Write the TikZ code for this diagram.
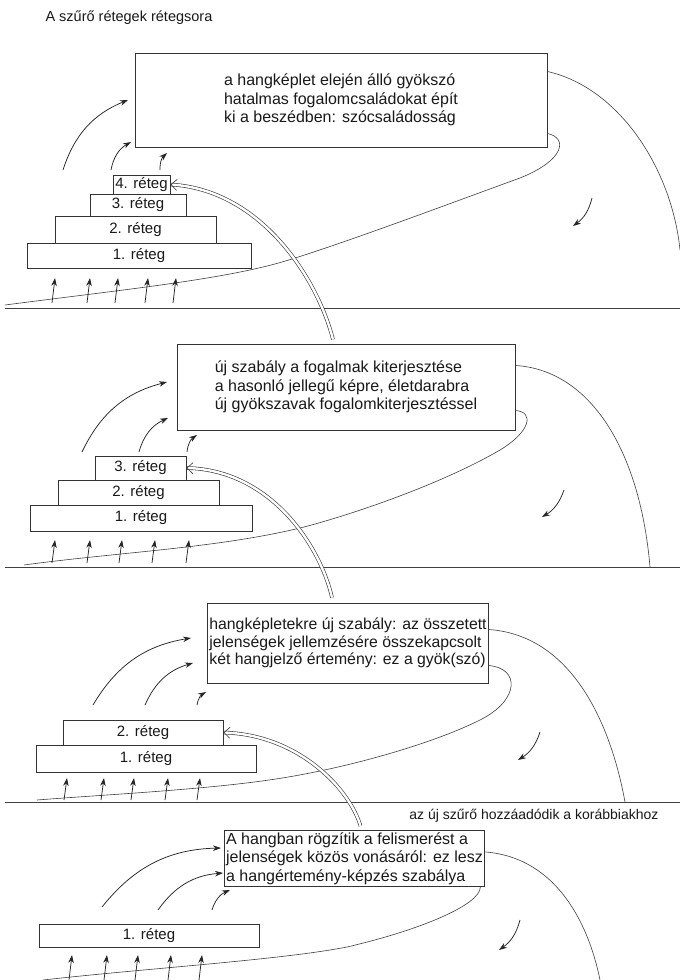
\documentclass[tikz,border=0pt]{standalone}
\usepackage{fontspec}
\setmainfont{Liberation Sans}
\usetikzlibrary{arrows.meta,calc}

\begin{document}
\begin{tikzpicture}[x=1pt,y=-1pt,
    every node/.style={text=black!90},
    box/.style={draw=black!80,line width=1pt,align=left,font=\fontsize{16}{18.5}\selectfont},
    layer/.style={draw=black!80,line width=1pt,inner sep=0pt,font=\fontsize{15}{17}\selectfont},
    arr/.style={draw=black!85,line width=0.75pt,-{Stealth[length=8pt,width=5.5pt]}},
    dbl/.style={draw=black!80,double,double distance=2.4pt,line width=0.6pt,-{Straight Barb[length=6pt,width=11pt]}},
    flow/.style={draw=black!75,line width=0.6pt}]
\useasboundingbox[fill=white] (0,0) rectangle (680,980);

\node[anchor=west,font=\fontsize{14.5}{17}\selectfont] (title) at (42,18) {A szűrő rétegek rétegsora};

% 1. szakasz
\node[box,minimum width=412pt,minimum height=94pt] (box1) at (341,100)
    {a hangképlet elején álló gyökszó\\hatalmas fogalomcsaládokat épít\\ki a beszédben: szócsaládosság};
\node[layer,minimum width=57pt,minimum height=19pt] (l14) at (141.5,184.5) {4. réteg};
\node[layer,minimum width=96pt,minimum height=22pt] (l13) at (138,205) {3. réteg};
\node[layer,minimum width=161pt,minimum height=27pt] (l12) at (135.5,229.5) {2. réteg};
\node[layer,minimum width=224pt,minimum height=25pt] (l11) at (139,255.5) {1. réteg};
\draw[flow] (5,308) -- (680,308);
\draw[flow] ($(box1.south east)+(0,-14)$) .. controls (568,138) and (565,160) .. (520,178)
    .. controls (470,196) and (340,245) .. (282,262) .. controls (220,280) and (120,290) .. (5,305);
\draw[flow] ($(box1.north east)+(0,19)$) .. controls (620,88) and (672,170) .. (680,250);
\foreach \a/\b/\c/\d in {63/170/128/100, 111/170/131/142, 160/170/167/153}
    \draw[arr] (\a,\b) to[bend left=25] (\c,\d);
\foreach \x in {52,87,115,145,173}
    \draw[arr] (\x,303) -- (\x+3,278);
\draw[arr] (592,198) to[bend left=20] (573,226);

% 2. szakasz
\node[box,minimum width=338pt,minimum height=86pt] (box2) at (346,387)
    {új szabály a fogalmak kiterjesztése\\a hasonló jellegű képre, életdarabra\\új gyökszavak fogalomkiterjesztéssel};
\node[layer,minimum width=91pt,minimum height=24pt] (l23) at (140.5,468) {3. réteg};
\node[layer,minimum width=161pt,minimum height=25pt] (l22) at (138.5,492.5) {2. réteg};
\node[layer,minimum width=222pt,minimum height=26pt] (l21) at (141,518) {1. réteg};
\draw[flow] (5,567) -- (680,567);
\draw[dbl] ($(box2.north)+(-13,-4)$) .. controls (318,280) and (262,190) .. (l14.east);
\draw[flow] ($(box2.south east)+(0,-20)$) .. controls (535,412) and (530,432) .. (500,450)
    .. controls (440,485) and (350,515) .. (304,527) .. controls (220,548) and (120,552) .. (24,565);
\draw[flow] ($(box2.north east)+(0,22)$) .. controls (590,370) and (640,450) .. (650,567);
\foreach \a/\b/\c/\d in {82/452/167/382, 139/452/168/418, 187/452/197/435}
    \draw[arr] (\a,\b) to[bend left=25] (\c,\d);
\foreach \x in {52,87,119,152,186}
    \draw[arr] (\x,563) -- (\x+3,540);
\draw[arr] (564,490) to[bend left=20] (542,517);

% 3. szakasz
\node[box,inner sep=1.5pt,minimum height=80pt,font=\fontsize{15.8}{17.8}\selectfont] (box3) at (348,643)
    {hangképletekre új szabály: az összetett\\jelenségek jellemzésére összekapcsolt\\két hangjelző értemény: ez a gyök(szó)};
\node[layer,minimum width=160pt,minimum height=25pt] (l32) at (143,732.5) {2. réteg};
\node[layer,minimum width=220pt,minimum height=27pt] (l31) at (146,758.5) {1. réteg};
\draw[flow] (5,802) -- (680,802);
\draw[dbl] ($(box3.north)+(-16,-5)$) .. controls (320,545) and (270,470) .. (l23.east);
\draw[flow] ($(box3.south east)+(0,-18)$) .. controls (520,668) and (520,700) .. (480,720)
    .. controls (430,745) and (340,770) .. (269,780) .. controls (200,790) and (100,795) .. (37,800);
\draw[flow] ($(box3.north east)+(0,27)$) .. controls (570,635) and (610,720) .. (625,802);
\foreach \a/\b/\c/\d in {93/705/191/638, 145/705/193/663, 197/705/206/692}
    \draw[arr] (\a,\b) to[bend left=25] (\c,\d);
\foreach \x in {64,101,131,165,197}
    \draw[arr] (\x,800) -- (\x+3,778);
\draw[arr] (540,732) to[bend left=20] (518,760);

% 4. szakasz
\node[anchor=east,font=\fontsize{14}{17}\selectfont] (note) at (662,816) {az új szűrő hozzáadódik a korábbiakhoz};
\node[box,inner sep=2pt] (box4) at (354.5,858.5)
    {A hangban rögzítik a felismerést a\\jelenségek közös vonásáról: ez lesz\\a hangértemény-képzés szabálya};
\node[layer,minimum width=220pt,minimum height=23pt] (l41) at (149,935.5) {1. réteg};
\draw[dbl] ($(box4.north)+(6,-4)$) .. controls (350,790) and (300,735) .. (l32.east);
\draw[flow] ($(box4.south east)+(-5,0)$) .. controls (480,905) and (420,930) .. (347,947)
    .. controls (280,960) and (150,968) .. (43,980);
\draw[flow] ($(box4.north east)+(0,22)$) .. controls (560,858) and (590,930) .. (600,980);
\foreach \a/\b/\c/\d in {102/907/221/848, 158/910/223/873, 212/910/230/890}
    \draw[arr] (\a,\b) to[bend left=25] (\c,\d);
\foreach \x in {69,104,135,168,199}
    \draw[arr] (\x,980) -- (\x+3,955);
\draw[arr] (520,920) to[bend left=20] (499,950);
\end{tikzpicture}
\end{document}
